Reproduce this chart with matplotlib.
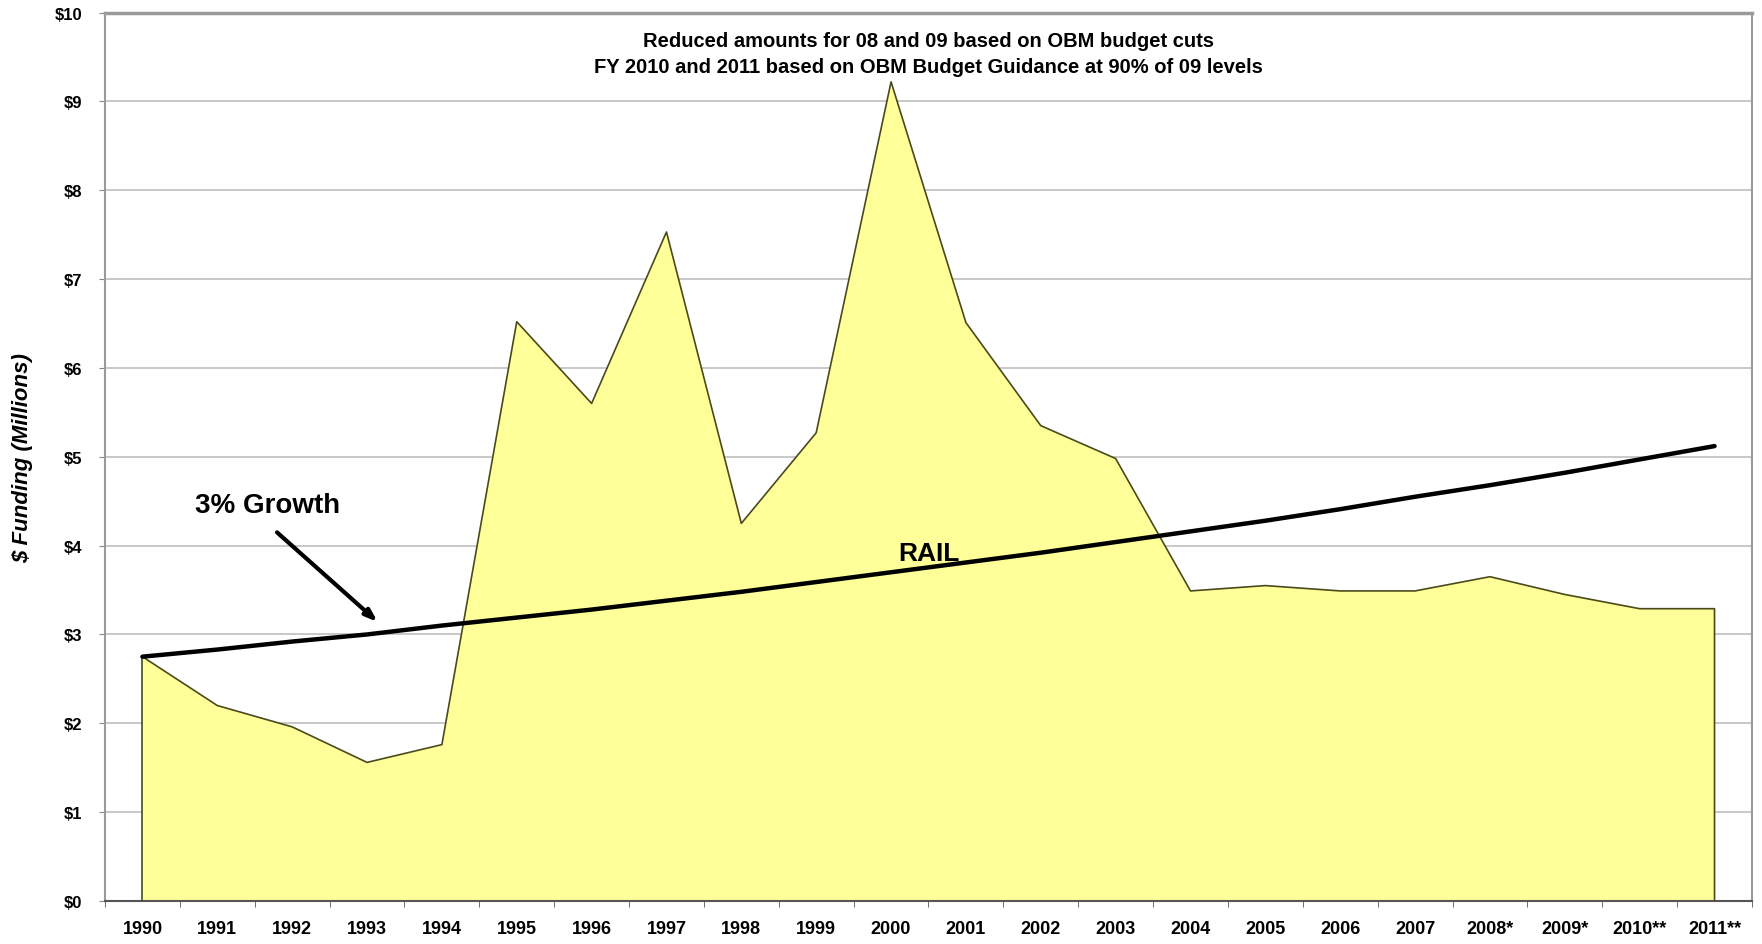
import matplotlib
matplotlib.use("Agg")
import matplotlib.pyplot as plt

plt.rcParams['font.family'] = ['Liberation Sans', 'DejaVu Sans']

years = ["1990", "1991", "1992", "1993", "1994", "1995", "1996", "1997", "1998", "1999",
         "2000", "2001", "2002", "2003", "2004", "2005", "2006", "2007", "2008*", "2009*",
         "2010**", "2011**"]
rail_funding = [2.75, 2.20, 1.96, 1.56, 1.76, 6.52, 5.60, 7.53, 4.25, 5.27,
                9.22, 6.51, 5.35, 4.98, 3.49, 3.55, 3.49, 3.49, 3.65, 3.45,
                3.29, 3.29]
growth_3pct = [2.75, 2.83, 2.92, 3.00, 3.10, 3.19, 3.28, 3.38, 3.48, 3.59,
               3.70, 3.81, 3.92, 4.04, 4.16, 4.28, 4.41, 4.55, 4.68, 4.82,
               4.97, 5.12]
y_ticks = [0, 1, 2, 3, 4, 5, 6, 7, 8, 9, 10]
y_tick_labels = ["$0", "$1", "$2", "$3", "$4", "$5", "$6", "$7", "$8", "$9", "$10"]

fig = plt.figure(figsize=(17.62, 9.45), dpi=100)
ax = fig.add_axes([0.0596, 0.0455, 0.9347, 0.9402])

x = list(range(len(years)))
ax.fill_between(x, rail_funding, 0, facecolor="#FFFF99", edgecolor="none", zorder=2)
ax.plot(x + [x[-1]], rail_funding + [0], color="#4a4a1c", lw=1.2, zorder=3)
ax.plot([x[0], x[0]], [0, rail_funding[0]], color="#4a4a1c", lw=1.2, zorder=3)
ax.plot(x, growth_3pct, color="black", lw=3.2, zorder=4, solid_capstyle="round")

ax.set_xlim(-0.5, len(years) - 0.5)
ax.set_ylim(0, 10)
ax.set_yticks(y_ticks)
ax.set_yticklabels(y_tick_labels, fontsize=12, fontweight="bold")
ax.yaxis.grid(True, color="#c4c4c4", lw=1.3, zorder=0)
ax.set_axisbelow(True)

ax.set_xticks(x)
ax.set_xticklabels(years, fontsize=13, fontweight="bold")
ax.tick_params(axis="x", which="major", length=0, pad=14)
ax.set_xticks([i - 0.5 for i in range(len(years) + 1)], minor=True)
ax.tick_params(axis="x", which="minor", length=8, direction="inout", color="#555555")
ax.tick_params(axis="y", length=4.5, direction="out", color="#888888", pad=12)

for side in ["left", "right", "top"]:
    ax.spines[side].set_color("#9a9a9a")
    ax.spines[side].set_linewidth(1.5)
ax.spines["top"].set_linewidth(2.5)
ax.spines["bottom"].set_color("#555555")
ax.spines["bottom"].set_linewidth(1.5)

ax.set_ylabel("$ Funding (Millions)", fontsize=16, fontweight="bold", fontstyle="italic")
ax.yaxis.set_label_coords(-0.0434, 0.5)

ax.text(0.5, 0.968, "Reduced amounts for 08 and 09 based on OBM budget cuts",
        transform=ax.transAxes, ha="center", va="center", fontsize=14.5, fontweight="bold")
ax.text(0.5, 0.939, "FY 2010 and 2011 based on OBM Budget Guidance at 90% of 09 levels",
        transform=ax.transAxes, ha="center", va="center", fontsize=14.5, fontweight="bold")

ax.text(1.67, 4.46, "3% Growth", ha="center", va="center", fontsize=20, fontweight="bold", zorder=5)
ax.annotate("", xy=(3.17, 3.12), xytext=(1.77, 4.17),
            arrowprops=dict(arrowstyle="-|>,head_length=0.7,head_width=0.25", color="black", lw=3),
            zorder=5)
ax.text(10.5, 3.92, "RAIL", ha="center", va="center", fontsize=19, fontweight="bold", zorder=5)

fig.savefig("out.png", dpi=100, facecolor="white")
